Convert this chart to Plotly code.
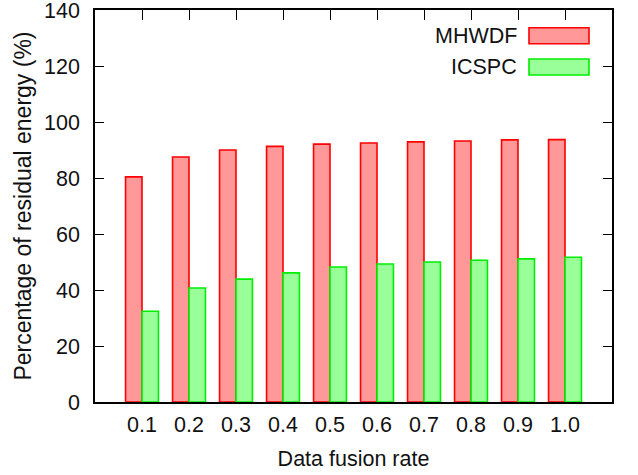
import plotly.graph_objects as go

rates = ["0.1", "0.2", "0.3", "0.4", "0.5", "0.6", "0.7", "0.8", "0.9", "1.0"]
mhwdf = [80.4, 87.5, 90.0, 91.3, 92.1, 92.5, 92.9, 93.2, 93.6, 93.7]
icspc = [32.4, 40.7, 43.9, 46.1, 48.2, 49.3, 50.0, 50.6, 51.1, 51.7]
series_names = ["MHWDF", "ICSPC"]
fills = ["#ff9999", "#99ff99"]
edges = ["#ff0000", "#00ee00"]

W, H = 638, 475
ML, MR, MT, MB = 95, 26, 10, 73
FONT = "Liberation Sans, Arial, sans-serif"

fig = go.Figure()
for name, vals, fc, ec in zip(series_names, [mhwdf, icspc], fills, edges):
    fig.add_trace(go.Bar(x=rates, y=vals, name=name,
                         marker=dict(color=fc, line=dict(color=ec, width=1.6)),
                         showlegend=False))

pw = W - ML - MR
ph = H - MT - MB
def px_x(x):
    return (x - ML) / pw
def px_y(y):
    return (H - MB - y) / ph

shapes = []
annotations = []
rows = [(27.7, 43.7), (59.0, 75.0)]
for (y0, y1), name, fc, ec in zip(rows, series_names, fills, edges):
    shapes.append(dict(type="rect", xref="paper", yref="paper",
                       x0=px_x(529), x1=px_x(589), y0=px_y(y1), y1=px_y(y0),
                       fillcolor=fc, line=dict(color=ec, width=1.6)))
    annotations.append(dict(text=name, xref="paper", yref="paper",
                            x=px_x(519), y=px_y((y0 + y1) / 2),
                            xanchor="right", yanchor="middle", showarrow=False,
                            font=dict(family=FONT, size=21.5, color="#111")))

fig.update_layout(
    width=W, height=H,
    margin=dict(l=ML, r=MR, t=MT, b=MB),
    paper_bgcolor="white", plot_bgcolor="white",
    barmode="group", bargap=0.3, bargroupgap=0,
    font=dict(family=FONT, size=21, color="#111"),
    shapes=shapes, annotations=annotations,
    xaxis=dict(type="category", range=[-1, 10], showgrid=False, automargin=False,
               showline=True, linecolor="black", linewidth=1.5, mirror="ticks",
               ticks="inside", ticklen=10, tickcolor="black", tickwidth=1.2,
               layer="below traces", ticklabelstandoff=2, ticklabeloverflow="allow",
               title=dict(text="Data fusion rate", font=dict(size=21.5), standoff=15),
               tickfont=dict(size=21.5)),
    yaxis=dict(range=[0, 140], dtick=20, showgrid=False, zeroline=False, automargin=False,
               showline=True, linecolor="black", linewidth=1.5, mirror="ticks",
               ticks="inside", ticklen=9, tickcolor="black", tickwidth=1.2,
               ticklabelstandoff=9, ticklabeloverflow="allow",
               title=dict(text="Percentage of residual energy (%)", font=dict(size=23), standoff=6),
               tickfont=dict(size=21.5)),
)

fig.write_html("out.html")
